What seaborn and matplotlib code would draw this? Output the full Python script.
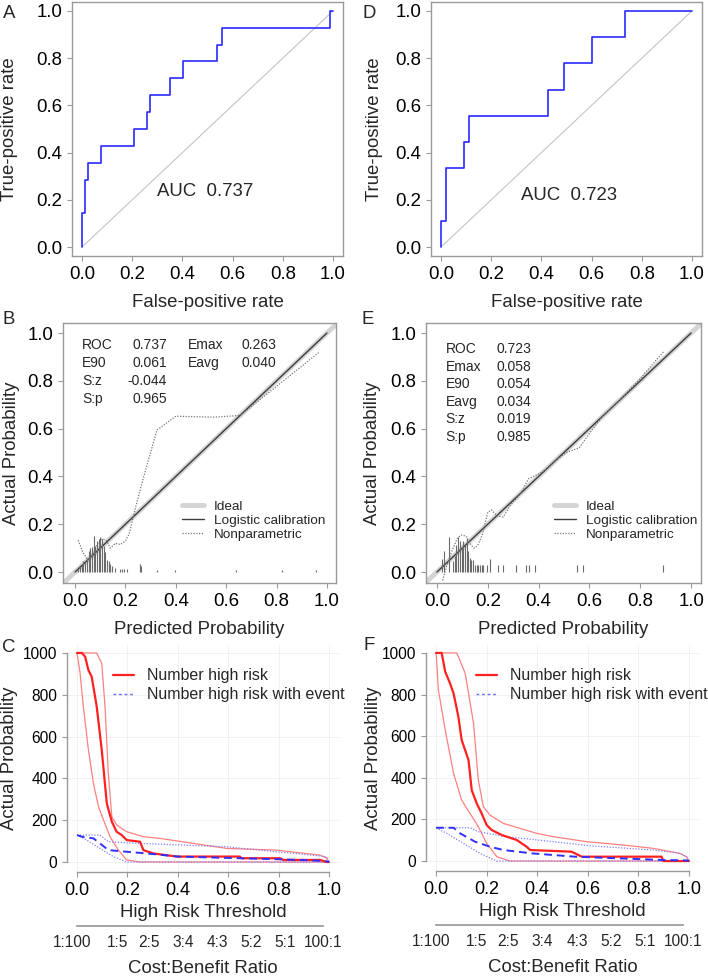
import matplotlib
matplotlib.use("Agg")
import matplotlib.pyplot as plt
from matplotlib.lines import Line2D
from matplotlib.ticker import FormatStrFormatter
import seaborn as sns

# ---- ROC curves (vertices of the step curves) ----
roc_a_fpr = [0.0, 0.0, 0.011, 0.011, 0.023, 0.023, 0.076, 0.076, 0.207, 0.207, 0.26, 0.26,
             0.27, 0.27, 0.35, 0.35, 0.403, 0.403, 0.536, 0.536, 0.556, 0.556, 0.99, 0.99, 1.0]
roc_a_tpr = [0.0, 0.143, 0.143, 0.286, 0.286, 0.357, 0.357, 0.429, 0.429, 0.5, 0.5, 0.571,
             0.571, 0.643, 0.643, 0.714, 0.714, 0.786, 0.786, 0.857, 0.857, 0.929, 0.929, 1.0, 1.0]
roc_d_fpr = [0.0, 0.0, 0.021, 0.021, 0.09, 0.09, 0.113, 0.113, 0.425, 0.425, 0.491, 0.491,
             0.602, 0.602, 0.734, 0.734, 1.0]
roc_d_tpr = [0.0, 0.111, 0.111, 0.333, 0.333, 0.444, 0.444, 0.556, 0.556, 0.667, 0.667, 0.778,
             0.778, 0.889, 0.889, 1.0, 1.0]
diag = [0.0, 1.0]

# ---- calibration ----
ideal_xy = [-0.06, 1.06]
logit_xy = [0.0, 1.0]
np_b_x = [0.012, 0.03, 0.05, 0.07, 0.09, 0.11, 0.125, 0.14, 0.16, 0.18, 0.20, 0.215, 0.24,
          0.27, 0.325, 0.40, 0.55, 0.655, 0.80, 0.967]
np_b_y = [0.133, 0.085, 0.05, 0.075, 0.12, 0.14, 0.13, 0.10, 0.12, 0.115, 0.13, 0.16, 0.27,
          0.39, 0.594, 0.652, 0.648, 0.655, 0.777, 0.918]
np_e_x = [0.022, 0.04, 0.06, 0.08, 0.095, 0.115, 0.13, 0.145, 0.16, 0.18, 0.20, 0.215, 0.235,
          0.26, 0.29, 0.33, 0.36, 0.39, 0.43, 0.47, 0.51, 0.56, 0.6, 0.65, 0.72, 0.8, 0.891]
np_e_y = [-0.035, 0.03, 0.09, 0.14, 0.155, 0.15, 0.12, 0.10, 0.11, 0.16, 0.25, 0.26, 0.235,
          0.23, 0.28, 0.33, 0.39, 0.405, 0.43, 0.47, 0.50, 0.52, 0.58, 0.65, 0.72, 0.81, 0.921]

spk_b_x = [0.010, 0.018, 0.026, 0.033, 0.040, 0.047, 0.054, 0.061, 0.067, 0.074, 0.080, 0.087,
           0.094, 0.100, 0.107, 0.113, 0.120, 0.127, 0.133, 0.140, 0.147, 0.160, 0.180, 0.186,
           0.193, 0.206, 0.256, 0.263, 0.325, 0.398, 0.637, 0.821, 0.958]
spk_b_h = [0.014, 0.022, 0.035, 0.045, 0.04, 0.06, 0.09, 0.10, 0.105, 0.15, 0.11, 0.13,
           0.14, 0.145, 0.14, 0.11, 0.085, 0.05, 0.045, 0.035, 0.025, 0.015, 0.012, 0.012,
           0.012, 0.012, 0.035, 0.025, 0.01, 0.01, 0.01, 0.01, 0.01]
spk_e_x = [0.018, 0.028, 0.049, 0.064, 0.071, 0.077, 0.084, 0.091, 0.097, 0.104, 0.110, 0.117,
           0.123, 0.130, 0.136, 0.143, 0.150, 0.156, 0.163, 0.169, 0.176, 0.182, 0.196, 0.209,
           0.241, 0.259, 0.311, 0.350, 0.364, 0.386, 0.550, 0.576, 0.891]
spk_e_h = [0.056, 0.087, 0.145, 0.045, 0.066, 0.115, 0.145, 0.128, 0.107, 0.128, 0.115, 0.143,
           0.087, 0.059, 0.052, 0.052, 0.03, 0.03, 0.03, 0.03, 0.03, 0.03, 0.03, 0.056,
           0.03, 0.03, 0.03, 0.03, 0.03, 0.03, 0.03, 0.03, 0.03]

stats_b = [["ROC", "0.737", "Emax", "0.263"], ["E90", "0.061", "Eavg", "0.040"],
           ["S:z", "-0.044", "", ""], ["S:p", "0.965", "", ""]]
stats_e = [["ROC", "0.723"], ["Emax", "0.058"], ["E90", "0.054"], ["Eavg", "0.034"],
           ["S:z", "0.019"], ["S:p", "0.985"]]

# ---- clinical impact curves ----
c_hr_x = [0, 0.019, 0.032, 0.045, 0.058, 0.078, 0.098, 0.118, 0.138, 0.157, 0.177, 0.197,
          0.25, 0.263, 0.303, 0.396, 0.647, 0.653, 0.806, 0.819, 0.964, 0.991, 1.0]
c_hr_y = [1000, 1000, 982, 918, 887, 743, 536, 280, 193, 145, 129, 105, 97, 57, 41, 26,
          26, 18, 18, 10, 10, 0, 0]
c_hr_hi_x = [0, 0.078, 0.098, 0.111, 0.124, 0.138, 0.157, 0.197, 0.263, 0.329, 0.462, 0.594,
             0.79, 0.964, 0.99, 1.0]
c_hr_hi_y = [1000, 1000, 950, 743, 424, 217, 177, 145, 121, 113, 89, 65, 57, 33, 20, 0]
c_hr_lo_x = [0, 0.012, 0.025, 0.045, 0.065, 0.085, 0.105, 0.131, 0.164, 0.197, 0.25, 1.0]
c_hr_lo_y = [1000, 903, 743, 536, 376, 265, 201, 121, 57, 10, 0, 0]
c_ev_x = [0, 0.019, 0.065, 0.091, 0.124, 0.197, 0.276, 0.402, 0.647, 0.806, 0.964, 0.99, 1.0]
c_ev_y = [129, 121, 113, 89, 57, 49, 41, 26, 18, 13, 6, 3, 0]
c_ev_hi_x = [0, 0.091, 0.124, 0.25, 0.594, 0.79, 0.964, 0.99, 1.0]
c_ev_hi_y = [129, 129, 97, 89, 73, 49, 29, 25, 0]
c_ev_lo_x = [0, 0.038, 0.091, 0.144, 0.197, 1.0]
c_ev_lo_y = [129, 105, 65, 26, 0, 0]

f_hr_x = [0, 0.022, 0.036, 0.055, 0.069, 0.088, 0.101, 0.128, 0.141, 0.161, 0.18, 0.2, 0.22,
          0.26, 0.319, 0.358, 0.372, 0.536, 0.576, 0.892, 0.899, 1.0]
f_hr_y = [1000, 1000, 910, 854, 806, 694, 582, 486, 340, 276, 229, 173, 149, 125, 101, 69,
          53, 45, 21, 21, 0, 0]
f_hr_hi_x = [0, 0.082, 0.115, 0.148, 0.167, 0.187, 0.213, 0.266, 0.332, 0.398, 0.464, 0.596,
             0.74, 0.859, 0.964, 0.991, 1.0]
f_hr_hi_y = [1000, 1000, 902, 662, 389, 261, 221, 181, 157, 133, 117, 93, 77, 61, 37, 20, 0]
f_hr_lo_x = [0, 0.009, 0.036, 0.069, 0.101, 0.134, 0.167, 0.2, 0.24, 0.292, 1.0]
f_hr_lo_y = [1000, 822, 630, 421, 293, 229, 165, 85, 21, 0, 0]
f_ev_x = [0, 0.069, 0.095, 0.154, 0.213, 0.266, 0.378, 0.549, 0.899, 0.991, 1.0]
f_ev_y = [160, 160, 133, 93, 69, 53, 37, 21, 5, 3, 0]
f_ev_hi_x = [0, 0.134, 0.167, 0.279, 0.464, 0.622, 0.859, 0.964, 0.991, 1.0]
f_ev_hi_y = [160, 160, 141, 117, 93, 72, 53, 37, 20, 0]
f_ev_lo_x = [0, 0.042, 0.108, 0.174, 0.24, 1.0]
f_ev_lo_y = [160, 133, 85, 37, 0, 0]

cb_labels = ["1:100", "1:5", "2:5", "3:4", "4:3", "5:2", "5:1", "100:1"]
cb_pos = [-0.02, 0.162, 0.286, 0.42, 0.558, 0.692, 0.825, 0.978]

sns.set_theme(style="white")
plt.rcParams["font.family"] = ["Liberation Sans", "DejaVu Sans"]

W, H = 708, 976
fig = plt.figure(figsize=(W / 100, H / 100), dpi=100)
GRAY = "#9a9a9a"
FS = 13.4


def add_ax(left, top, right, bottom):
    return fig.add_axes([left / W, 1 - bottom / H, (right - left) / W, (bottom - top) / H])


def style(ax, xsize=FS, ysize=FS):
    for sp in ax.spines.values():
        sp.set_color(GRAY)
        sp.set_linewidth(1.0)
    ax.tick_params(direction="out", length=3.6, width=0.8, color=GRAY, pad=3.5,
                   bottom=True, left=True, labelcolor="black")
    ax.tick_params(axis="x", labelsize=xsize)
    ax.tick_params(axis="y", labelsize=ysize)


def line(ax, x, y, **kw):
    sns.lineplot(x=x, y=y, sort=False, estimator=None, errorbar=None, ax=ax, **kw)


def roc_panel(ax, fpr, tpr, auc, auc_xy, ylab_x):
    line(ax, diag, diag, color="#c4c4c4", lw=0.8)
    line(ax, fpr, tpr, color="#2a2aff", lw=1.2)
    ax.set_xlim(-0.04, 1.04)
    ax.set_ylim(-0.038, 1.038)
    ticks = [0, 0.2, 0.4, 0.6, 0.8, 1.0]
    ax.set_xticks(ticks)
    ax.set_yticks(ticks)
    ax.xaxis.set_major_formatter(FormatStrFormatter("%.1f"))
    ax.yaxis.set_major_formatter(FormatStrFormatter("%.1f"))
    style(ax)
    ax.set_xlabel("False-positive rate", fontsize=FS, va="center")
    ax.set_ylabel("True-positive rate", fontsize=FS, va="center")
    ax.xaxis.set_label_coords(0.5, -0.183)
    ax.yaxis.set_label_coords(ylab_x, 0.5)
    ax.text(auc_xy[0], auc_xy[1], "AUC  " + auc, fontsize=FS, va="center", ha="left")


def calib_panel(ax, np_x, np_y, spk_x, spk_h, xlim, ylab_x, leg_x):
    line(ax, ideal_xy, ideal_xy, color="#d4d4d4", lw=3.5)
    line(ax, logit_xy, logit_xy, color="#3c3c3c", lw=1.0)
    line(ax, np_x, np_y, color="#777777", lw=0.9, linestyle=(0, (1, 1.2)))
    ax.vlines(spk_x, 0, spk_h, color="#6a6a6a", lw=0.8)
    ax.set_xlim(*xlim)
    ax.set_ylim(-0.046, 1.042)
    ticks = [0, 0.2, 0.4, 0.6, 0.8, 1.0]
    ax.set_xticks(ticks)
    ax.set_yticks(ticks)
    ax.xaxis.set_major_formatter(FormatStrFormatter("%.1f"))
    ax.yaxis.set_major_formatter(FormatStrFormatter("%.1f"))
    style(ax)
    ax.set_xlabel("Predicted Probability", fontsize=FS, va="center")
    ax.set_ylabel("Actual Probability", fontsize=FS, va="center")
    ax.xaxis.set_label_coords(0.5, -0.18)
    ax.yaxis.set_label_coords(ylab_x, 0.5)
    handles = [Line2D([], [], color="#d4d4d4", lw=3.5),
               Line2D([], [], color="#3c3c3c", lw=1.0),
               Line2D([], [], color="#777777", lw=0.9, linestyle=(0, (1, 1.2)))]
    ax.legend(handles, ["Ideal", "Logistic calibration", "Nonparametric"], loc="upper left",
              bbox_to_anchor=(leg_x, 0.318), frameon=False, fontsize=9.7, handlelength=1.65,
              handletextpad=0.7, labelspacing=0.12, borderpad=0, borderaxespad=0)


def impact_panel(ax, curves, leg_x):
    ax.grid(True, color="#efefef", lw=0.6)
    ax.set_axisbelow(True)
    hr, hr_hi, hr_lo, ev, ev_hi, ev_lo = curves
    line(ax, *hr_hi, color="#ff8080", lw=0.9)
    line(ax, *hr_lo, color="#ff8080", lw=0.9)
    line(ax, *ev_hi, color="#8080ff", lw=0.9, linestyle=(0, (1, 1.3)))
    line(ax, *ev_lo, color="#8080ff", lw=0.9, linestyle=(0, (1, 1.3)))
    line(ax, *hr, color="#ff2020", lw=1.6)
    line(ax, *ev, color="#2f2fff", lw=1.4, linestyle=(0, (4, 2.5)))
    ax.set_xlim(-0.04, 1.04)
    ax.set_ylim(-47.8, 1040)
    ax.set_xticks([0, 0.2, 0.4, 0.6, 0.8, 1.0])
    ax.set_yticks([0, 200, 400, 600, 800, 1000])
    ax.xaxis.set_major_formatter(FormatStrFormatter("%.1f"))
    ax.spines["top"].set_visible(False)
    ax.spines["right"].set_visible(False)
    style(ax, xsize=13, ysize=11.2)
    ax.spines["left"].set_bounds(0, 1000)
    ax.spines["bottom"].set_bounds(0, 1)
    ax.set_xlabel("High Risk Threshold", fontsize=FS, va="center")
    ax.set_ylabel("Actual Probability", fontsize=FS, va="center")
    ax.xaxis.set_label_coords(0.5, -0.18)
    handles = [Line2D([], [], color="#ff2020", lw=1.6),
               Line2D([], [], color="#6a6aff", lw=1.0, linestyle=(0, (2, 2)))]
    ax.legend(handles, ["Number high risk", "Number high risk with event"], loc="upper left",
              bbox_to_anchor=(leg_x, 0.895), frameon=False, fontsize=11.5, handlelength=1.3,
              handletextpad=0.8, labelspacing=0.25, borderpad=0, borderaxespad=0)
    sec = ax.secondary_xaxis(-0.2375)
    sec.set_xticks(cb_pos, cb_labels)
    sec.tick_params(length=0, labelsize=11.2, pad=6.5)
    sec.spines["bottom"].set_color(GRAY)
    sec.spines["bottom"].set_bounds(0, 0.978)
    sec.set_xlabel("Cost:Benefit Ratio", fontsize=FS, labelpad=7)


ax_a = add_ax(72, 2, 343, 256)
roc_panel(ax_a, roc_a_fpr, roc_a_tpr, "0.737", (0.299, 0.237), -0.232)
ax_d = add_ax(431, 2, 702, 256)
roc_panel(ax_d, roc_d_fpr, roc_d_tpr, "0.723", (0.319, 0.22), -0.207)

ax_b = add_ax(63, 323, 336, 583)
calib_panel(ax_b, np_b_x, np_b_y, spk_b_x, spk_b_h, (-0.048, 1.036), -0.19, 0.436)
for i, row in enumerate(stats_b):
    yy = 0.95 - i * 0.0755
    ax_b.text(0.028, yy, row[0], fontsize=10, va="center", ha="left")
    ax_b.text(0.365, yy, row[1], fontsize=10, va="center", ha="right")
    ax_b.text(0.448, yy, row[2], fontsize=10, va="center", ha="left")
    ax_b.text(0.80, yy, row[3], fontsize=10, va="center", ha="right")

ax_e = add_ax(426, 323, 701, 583)
calib_panel(ax_e, np_e_x, np_e_y, spk_e_x, spk_e_h, (-0.043, 1.039), -0.196, 0.465)
for i, row in enumerate(stats_e):
    yy = 0.933 - i * 0.0736
    ax_e.text(0.035, yy, row[0], fontsize=10, va="center", ha="left")
    ax_e.text(0.370, yy, row[1], fontsize=10, va="center", ha="right")

ax_c = add_ax(67, 644.6, 339, 872)
impact_panel(ax_c, [(c_hr_x, c_hr_y), (c_hr_hi_x, c_hr_hi_y), (c_hr_lo_x, c_hr_lo_y),
                    (c_ev_x, c_ev_y), (c_ev_hi_x, c_ev_hi_y), (c_ev_lo_x, c_ev_lo_y)], 0.169)
ax_c.yaxis.set_label_coords(-0.21, 0.5)
ax_f = add_ax(426, 644.6, 699, 871)
impact_panel(ax_f, [(f_hr_x, f_hr_y), (f_hr_hi_x, f_hr_hi_y), (f_hr_lo_x, f_hr_lo_y),
                    (f_ev_x, f_ev_y), (f_ev_hi_x, f_ev_hi_y), (f_ev_lo_x, f_ev_lo_y)], 0.183)
ax_f.yaxis.set_label_coords(-0.194, 0.5)

for letter, x, y in [("A", 9, 13), ("D", 369, 13), ("B", 9, 320), ("E", 368, 320),
                     ("C", 9, 647), ("F", 369, 645)]:
    fig.text(x / W, 1 - y / H, letter, fontsize=FS, ha="center", va="center")

fig.savefig("out.png", dpi=100)
